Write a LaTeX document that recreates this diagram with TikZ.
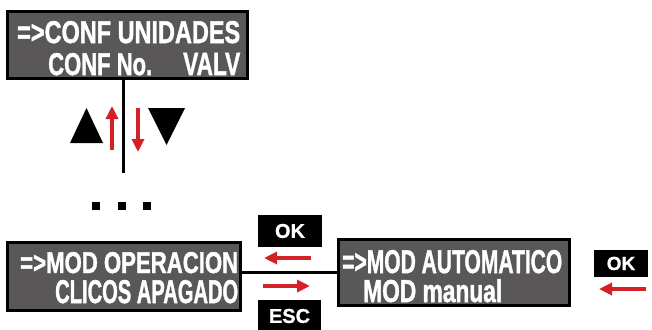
\documentclass[tikz,border=0pt]{standalone}
\usepackage{fontspec}
\setmainfont{Liberation Sans}
\newfontfamily\lcdfont{Liberation Sans}[BoldFeatures={FakeBold=1.6}]
\newfontfamily\keyfont{Liberation Sans}[BoldFeatures={FakeBold=0.8}]
\usetikzlibrary{arrows.meta}
\definecolor{lcdgray}{HTML}{5A5758}
\definecolor{arrred}{HTML}{D42027}
\newcommand{\lcdline}[3]{\resizebox{#1pt}{#2pt}{\lcdfont\bfseries #3}}
\begin{document}
\begin{tikzpicture}[x=1pt,y=-1pt,
  lcd/.style={draw=black, fill=lcdgray, line width=3pt, inner sep=0pt},
  lcdtxt/.style={inner sep=0pt, anchor=base west, text=white},
  keybox/.style={fill=black, text=white, inner sep=0pt, font=\keyfont\bfseries\fontsize{20}{20}\selectfont},
  redarrow/.style={draw=arrred, line width=3.4pt, -{Triangle[length=13pt,width=12pt]}},
  conn/.style={draw=black, line width=3pt}]
\useasboundingbox (0,0) rectangle (652,329);

% LCD boxes
\node[lcd, minimum width=240pt, minimum height=67pt] (top) at (127.5,45) {};
\node[lcd, minimum width=233pt, minimum height=68pt] (left) at (124,276.5) {};
\node[lcd, minimum width=231pt, minimum height=66pt] (right) at (454,272.5) {};

% LCD texts
\node[lcdtxt] (t1) at (17,43) {\lcdline{223}{22}{=>CONF UNIDADES}};
\node[lcdtxt] (t2) at (48,75) {\lcdline{104}{22}{CONF No.}\hspace{31pt}\lcdline{57}{22}{VALV}};
\node[lcdtxt] (l1) at (20,273) {\lcdline{218}{21}{=>MOD OPERACION}};
\node[lcdtxt] (l2) at (55,303) {\lcdline{183}{23}{CLICOS APAGADO}};
\node[lcdtxt] (r1) at (342,273) {\lcdline{220}{23}{=>MOD AUTOMATICO}};
\node[lcdtxt] (r2) at (363,302) {\lcdline{139}{23}{MOD manual}};

% connectors
\coordinate (vend) at (123,173);
\draw[conn] (vend |- top.south) -- (vend);
\draw[conn] (left.east |- right.west) -- (right.west);

% navigation triangles
\fill[black] (70,143) -- (86.5,108) -- (103,143) -- cycle;
\fill[black] (148,108) -- (185,108) -- (166.5,145) -- cycle;

% red up/down arrows
\coordinate (ua0) at (112,150);
\coordinate (ua1) at (112,106);
\coordinate (da0) at (138,108);
\coordinate (da1) at (138,152);
\draw[redarrow] (ua0) -- (ua1);
\draw[redarrow] (da0) -- (da1);

% dots
\fill[black] (92,202) rectangle (100,210);
\fill[black] (117.5,202) rectangle (125.5,210);
\fill[black] (143,202) rectangle (151,210);

% keys
\node[keybox, minimum width=64pt, minimum height=32pt] (ok1) at (290,231) {OK};
\node[keybox, minimum width=63pt, minimum height=32pt] (esc) at (289.5,316) {ESC};
\node[keybox, minimum width=54pt, minimum height=27pt, font=\keyfont\bfseries\fontsize{19}{19}\selectfont] (ok2) at (621,263.5) {OK};

% red horizontal arrows
\coordinate (la0) at (311,258);
\coordinate (la1) at (264,258);
\coordinate (ra0) at (263,286);
\coordinate (ra1) at (310,286);
\coordinate (pa0) at (646,289);
\coordinate (pa1) at (599,289);
\draw[redarrow] (la0) -- (la1);
\draw[redarrow] (ra0) -- (ra1);
\draw[redarrow] (pa0) -- (pa1);
\end{tikzpicture}
\end{document}
